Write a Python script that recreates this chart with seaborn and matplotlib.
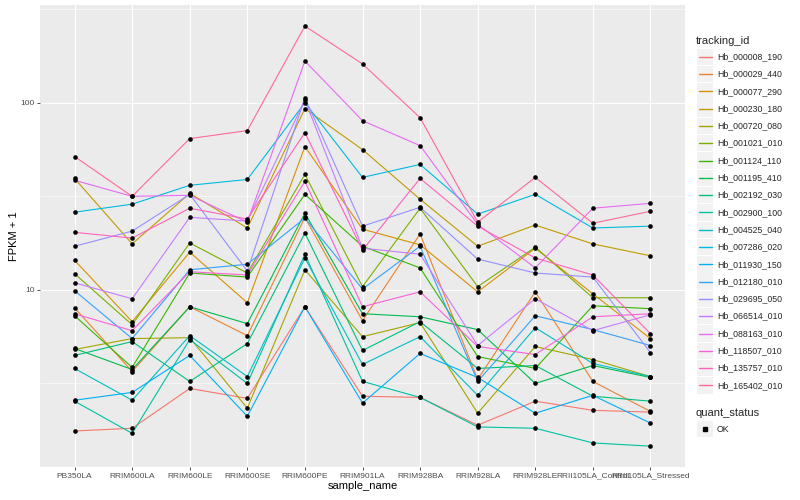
import math
import numpy as np
import pandas as pd
import seaborn as sns
import matplotlib
matplotlib.use("Agg")
import matplotlib.pyplot as plt
from matplotlib.patches import Rectangle
from matplotlib.lines import Line2D
from matplotlib.ticker import FixedLocator

samples = ["PB350LA", "RRIM600LA", "RRIM600LE", "RRIM600SE", "RRIM600PE", "RRIM901LA",
           "RRIM928BA", "RRIM928LA", "RRIM928LE", "RRII105LA_Control", "RRII105LA_Stressed"]

tracking_ids = ["Hb_000008_190", "Hb_000029_440", "Hb_000077_290", "Hb_000230_180",
                "Hb_000720_080", "Hb_001021_010", "Hb_001124_110", "Hb_001195_410",
                "Hb_002192_030", "Hb_002900_100", "Hb_004525_040", "Hb_007286_020",
                "Hb_011930_150", "Hb_012180_010", "Hb_029695_050", "Hb_066514_010",
                "Hb_088163_010", "Hb_118507_010", "Hb_135757_010", "Hb_165402_010"]

# FPKM + 1, one list per gene, in sample order
hb_000008_190 = [1.76, 1.82, 2.97, 2.63, 8.12, 2.70, 2.66, 1.89, 2.54, 2.27, 2.22]
hb_000029_440 = [8.02, 3.66, 8.12, 5.69, 24.4, 6.84, 19.9, 3.32, 9.76, 3.24, 2.24]
hb_000077_290 = [14.4, 6.76, 15.9, 8.53, 58.3, 21.1, 17.4, 9.76, 16.7, 9.52, 5.49]
hb_000230_180 = [39.4, 17.6, 32.8, 21.4, 92.9, 56.2, 30.5, 17.1, 22.2, 17.6, 15.2]
hb_000720_080 = [4.80, 5.49, 5.55, 2.33, 12.8, 5.62, 6.68, 2.19, 4.98, 4.24, 3.44]
hb_001021_010 = [12.2, 6.51, 17.8, 12.3, 41.4, 10.4, 27.3, 10.4, 16.9, 9.07, 9.07]
hb_001124_110 = [7.27, 3.85, 12.3, 11.7, 32.4, 17.1, 13.1, 4.40, 3.80, 8.22, 7.93]
hb_001195_410 = [4.86, 3.75, 8.12, 6.60, 25.7, 7.45, 7.18, 6.13, 3.16, 3.94, 3.40]
hb_002192_030 = [4.46, 5.29, 3.24, 5.16, 20.1, 4.74, 6.76, 3.80, 3.94, 2.70, 2.54]
hb_002900_100 = [2.54, 1.71, 5.42, 3.16, 15.5, 3.24, 2.66, 1.85, 1.82, 1.52, 1.46]
hb_004525_040 = [3.80, 2.57, 5.69, 3.44, 14.8, 3.99, 5.62, 2.73, 6.28, 4.04, 3.44]
hb_007286_020 = [26.0, 28.7, 36.2, 38.9, 100.0, 39.9, 46.8, 25.4, 32.4, 21.4, 21.9]
hb_011930_150 = [2.57, 2.83, 4.46, 2.11, 8.12, 2.48, 4.57, 3.40, 2.19, 2.73, 1.94]
hb_012180_010 = [9.90, 5.49, 12.8, 13.7, 24.2, 10.1, 17.1, 3.24, 7.27, 6.13, 5.04]
hb_029695_050 = [17.1, 20.6, 32.4, 12.6, 106.3, 21.9, 27.6, 14.6, 12.3, 11.7, 4.62]
hb_066514_010 = [10.9, 8.96, 24.4, 23.3, 103.7, 16.7, 15.5, 5.04, 8.96, 6.05, 7.36]
hb_088163_010 = [38.5, 31.6, 32.0, 23.0, 167.2, 80.2, 59.0, 22.4, 13.1, 27.3, 29.0]
hb_118507_010 = [7.45, 6.05, 12.5, 12.0, 38.0, 8.12, 9.76, 4.98, 4.51, 7.18, 7.45]
hb_135757_010 = [20.3, 18.9, 27.3, 23.9, 69.2, 16.3, 39.4, 21.9, 14.8, 12.0, 5.83]
hb_165402_010 = [51.6, 31.6, 64.3, 71.0, 257.0, 161.2, 83.2, 23.0, 39.9, 22.7, 26.3]

series = [hb_000008_190, hb_000029_440, hb_000077_290, hb_000230_180, hb_000720_080,
          hb_001021_010, hb_001124_110, hb_001195_410, hb_002192_030, hb_002900_100,
          hb_004525_040, hb_007286_020, hb_011930_150, hb_012180_010, hb_029695_050,
          hb_066514_010, hb_088163_010, hb_118507_010, hb_135757_010, hb_165402_010]

rows = []
for tid, vals in zip(tracking_ids, series):
    for s, v in zip(samples, vals):
        rows.append({"sample_name": s, "tracking_id": tid, "fpkm": v, "quant_status": "OK"})
df = pd.DataFrame(rows)
df["sample_name"] = pd.Categorical(df["sample_name"], categories=samples, ordered=True)


def hcl_hex(h, c=100.0, l=65.0):
    # ggplot2 default hue palette: polar LUV -> sRGB
    hr = math.radians(h)
    u, v = c * math.cos(hr), c * math.sin(hr)
    xn, yn, zn = 95.047, 100.0, 108.883
    un = 4 * xn / (xn + 15 * yn + 3 * zn)
    vn = 9 * yn / (xn + 15 * yn + 3 * zn)
    y = yn * ((l + 16) / 116) ** 3
    up = u / (13 * l) + un
    vp = v / (13 * l) + vn
    x = y * 9 * up / (4 * vp)
    z = y * (12 - 3 * up - 20 * vp) / (4 * vp)
    x, y, z = x / 100, y / 100, z / 100
    rgb = [3.2404542 * x - 1.5371385 * y - 0.4985314 * z,
           -0.9692660 * x + 1.8760108 * y + 0.0415560 * z,
           0.0556434 * x - 0.2040259 * y + 1.0572252 * z]
    out = []
    for ch in rgb:
        ch = 12.92 * ch if ch <= 0.0031308 else 1.055 * ch ** (1 / 2.4) - 0.055
        out.append(min(max(ch, 0), 1))
    return matplotlib.colors.to_hex(out)


n = len(tracking_ids)
palette = {tid: hcl_hex(15 + 360 / n * i) for i, tid in enumerate(tracking_ids)}

sns.set_theme(style="darkgrid", rc={"axes.facecolor": "#EBEBEB", "grid.color": "white"})
plt.rcParams["font.family"] = ["Liberation Sans", "DejaVu Sans"]

fig = plt.figure(figsize=(8, 5), dpi=100)
ax = fig.add_axes([40 / 800, 33 / 500, 645 / 800, 462 / 500])

sns.lineplot(data=df, x="sample_name", y="fpkm", hue="tracking_id", palette=palette,
             hue_order=tracking_ids, estimator=None, sort=False, linewidth=0.8,
             legend=False, ax=ax)
sns.scatterplot(data=df, x="sample_name", y="fpkm", color="black", s=11, marker="o",
                linewidth=0, legend=False, ax=ax, zorder=3)

ax.set_yscale("log")
ax.set_ylim(1.13, 333)
ax.set_xlim(-0.6, len(samples) - 0.4)
ax.set_yticks([10, 100])
ax.set_yticklabels(["10", "100"])
ax.yaxis.set_minor_locator(FixedLocator([10 ** 0.5, 10 ** 1.5, 10 ** 2.5]))
ax.set_axisbelow(True)
ax.grid(which="major", color="white", linewidth=0.8)
ax.grid(which="minor", axis="y", color="white", linewidth=0.4)
ax.tick_params(which="minor", length=0)
ax.tick_params(which="major", bottom=True, left=True, length=2.5, width=0.6,
               color="#333333", labelsize=6, labelcolor="#4D4D4D", pad=1.5)
for sp in ax.spines.values():
    sp.set_visible(False)

ax.set_xlabel("sample_name", fontsize=8, color="black")
ax.set_ylabel("FPKM + 1", fontsize=8, color="black")
ax.xaxis.set_label_coords(0.5, -14 / 462)
ax.yaxis.set_label_coords(-(40 - 19) / 645, 0.5)

# legends, ggplot style
def fy(py):
    return 1 - py / 500

fig.text(696 / 800, fy(40.7), "tracking_id", fontsize=8, va="center", ha="left")
for i, tid in enumerate(tracking_ids):
    cy = 56.7 + 17.3 * i
    fig.add_artist(Rectangle((697 / 800, fy(cy + 8.2)), 16 / 800, 16.4 / 500,
                             transform=fig.transFigure, facecolor="#F2F2F2", edgecolor="none"))
    fig.add_artist(Line2D([698.5 / 800, 711.5 / 800], [fy(cy), fy(cy)], color=palette[tid],
                          lw=1.0, transform=fig.transFigure))
    fig.text(717 / 800, fy(cy), tid, fontsize=6.3, va="center", ha="left")

fig.text(696 / 800, fy(412.7), "quant_status", fontsize=8, va="center", ha="left")
fig.add_artist(Rectangle((697 / 800, fy(429 + 8.2)), 16 / 800, 16.4 / 500,
                         transform=fig.transFigure, facecolor="#F2F2F2", edgecolor="none"))
fig.add_artist(Line2D([705 / 800], [fy(429)], marker="s", markersize=2.6, color="black",
                      lw=0, transform=fig.transFigure))
fig.text(717 / 800, fy(429), "OK", fontsize=6.3, va="center", ha="left")

fig.savefig("out.png", dpi=100)
